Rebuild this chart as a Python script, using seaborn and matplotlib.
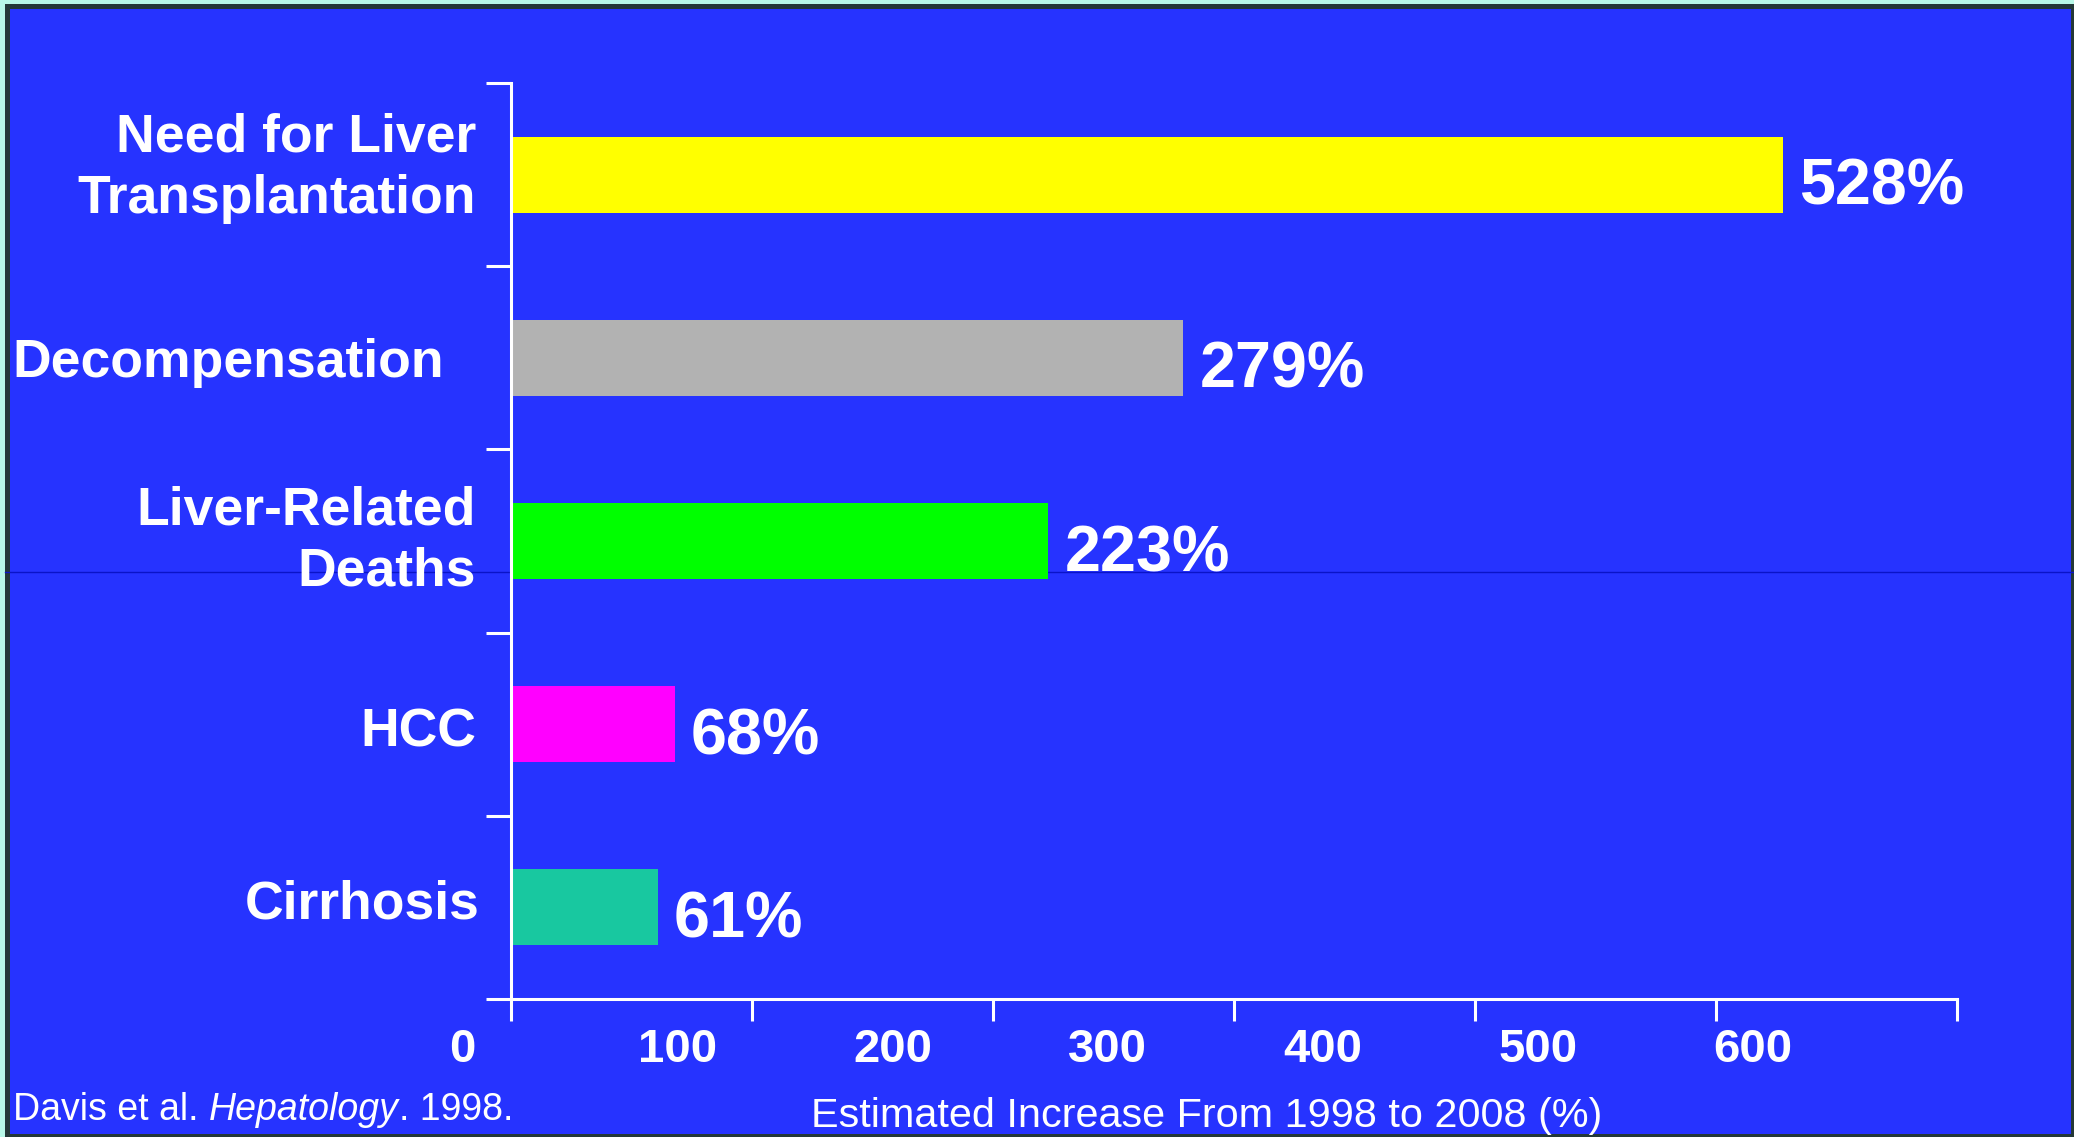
import matplotlib
matplotlib.use("Agg")
import matplotlib.pyplot as plt
import matplotlib.transforms as mtransforms
import matplotlib.font_manager as fm
from matplotlib.patches import Rectangle
from matplotlib.lines import Line2D
import seaborn as sns
import pandas as pd

# ---------------- data ----------------
categories = ["Need for Liver\nTransplantation", "Decompensation",
              "Liver-Related\nDeaths", "HCC", "Cirrhosis"]
values = [528, 279, 223, 68, 61]
value_labels = ["528%", "279%", "223%", "68%", "61%"]
bar_colors = ["#FFFF00", "#B2B2B2", "#00FF00", "#FF00FF", "#18C8A0"]
tick_values = [0, 100, 200, 300, 400, 500, 600]
tick_labels = ["0", "100", "200", "300", "400", "500", "600"]
x_label = "Estimated Increase From 1998 to 2008 (%)"
source_parts = [("Davis et al.", "normal"), ("Hepatology", "italic"), (". 1998.", "normal")]

# ---------------- style ----------------
W, H = 2074, 1137
BLUE = "#2633FF"
FONT = "Liberation Sans"
label_dx = [-35, -67, -35, -35, -31]   # px, right edge of category labels
label_dy = [6, -5, 0, -8, 3]           # px, vertical nudge of category labels

def fx(px):
    return px / W

def fy(py):
    return 1 - py / H

fig = plt.figure(figsize=(W / 100, H / 100), dpi=100, facecolor="#B8F8E8")

# slide frame
fig.patches.append(Rectangle((fx(5), fy(H)), fx(W) - fx(5), fy(4) - fy(H),
                             transform=fig.transFigure, facecolor="#243838",
                             edgecolor="none", zorder=-10))
fig.patches.append(Rectangle((fx(10), fy(1134)), fx(2071) - fx(10), fy(9) - fy(1134),
                             transform=fig.transFigure, facecolor=BLUE,
                             edgecolor="none", zorder=-9))
fig.add_artist(Line2D([fx(5), 1], [fy(572), fy(572)], transform=fig.transFigure,
                      color="#0A14C8", lw=1, zorder=-5))

ax = fig.add_axes([fx(511), fy(999), fx(1957) - fx(511), fy(83) - fy(999)])
ax.set_facecolor("none")

df = pd.DataFrame({"category": categories, "value": values})
sns.barplot(data=df, x="value", y="category", hue="category", palette=bar_colors,
            legend=False, orient="h", width=0.415, linewidth=0, saturation=1, ax=ax)

ax.set_xlim(0, 600)
ax.set_ylim(len(categories) - 0.5, -0.5)
ax.set_yticks([i - 0.5 for i in range(len(categories) + 1)])
ax.set_yticklabels([])
ax.set_xticks(tick_values)
ax.set_xticklabels([])
ax.set_xlabel("")
ax.set_ylabel("")
ax.tick_params(axis="y", length=18, width=2.2, color="white", direction="out")
ax.tick_params(axis="x", length=16, width=2.2, color="white", direction="out")
for s in ["top", "right"]:
    ax.spines[s].set_visible(False)
for s in ["left", "bottom"]:
    ax.spines[s].set_color("white")
    ax.spines[s].set_linewidth(2.2)

# category labels
for i, (cat, dx, dy) in enumerate(zip(categories, label_dx, label_dy)):
    ax.annotate(cat, xy=(0, i), xycoords=("axes fraction", "data"),
                xytext=(dx, dy), textcoords="offset pixels", ha="right", va="center",
                multialignment="right", linespacing=1.3, fontsize=38.5,
                fontweight="bold", color="white", family=FONT, annotation_clip=False)

# value labels
for i, (v, lbl) in enumerate(zip(values, value_labels)):
    ax.annotate(lbl, xy=(v, i), xytext=(16, -30), textcoords="offset pixels",
                ha="left", va="baseline", fontsize=46.5, fontweight="bold",
                color="white", family=FONT, annotation_clip=False)

# tick labels (shifted as in the slide)
trans = mtransforms.blended_transform_factory(ax.transData, fig.transFigure)
for t, lbl in zip(tick_values, tick_labels):
    ax.text(t * 0.892 - 20, fy(1062), lbl, transform=trans, ha="center", va="baseline",
            fontsize=34, fontweight="bold", color="white", family=FONT, clip_on=False)

# x label
names = {f.name for f in fm.fontManager.ttflist}
if "Liberation Sans Narrow" in names:
    fig.text(fx(1205), fy(1127), x_label, ha="center", va="baseline", fontsize=36,
             color="white", family="Liberation Sans Narrow")
else:
    fig.text(fx(1207), fy(1127), x_label, ha="center", va="baseline", fontsize=29.8,
             color="white", family=FONT)

# source
renderer = fig.canvas.get_renderer()

def text_width(s, **kw):
    t = fig.text(0, 0, s, **kw)
    w = t.get_window_extent(renderer).width
    t.remove()
    return w

src_kw = dict(fontsize=27, color="white", family=FONT)
space = text_width("x x", **src_kw) - text_width("xx", **src_kw)
x = 13
for k, (txt, style) in enumerate(source_parts):
    t = fig.text(fx(x), fy(1120), txt, ha="left", va="baseline", style=style, **src_kw)
    x += t.get_window_extent(renderer).width
    if k == 0:
        x += space

fig.savefig("out.png", dpi=100, facecolor=fig.get_facecolor())
